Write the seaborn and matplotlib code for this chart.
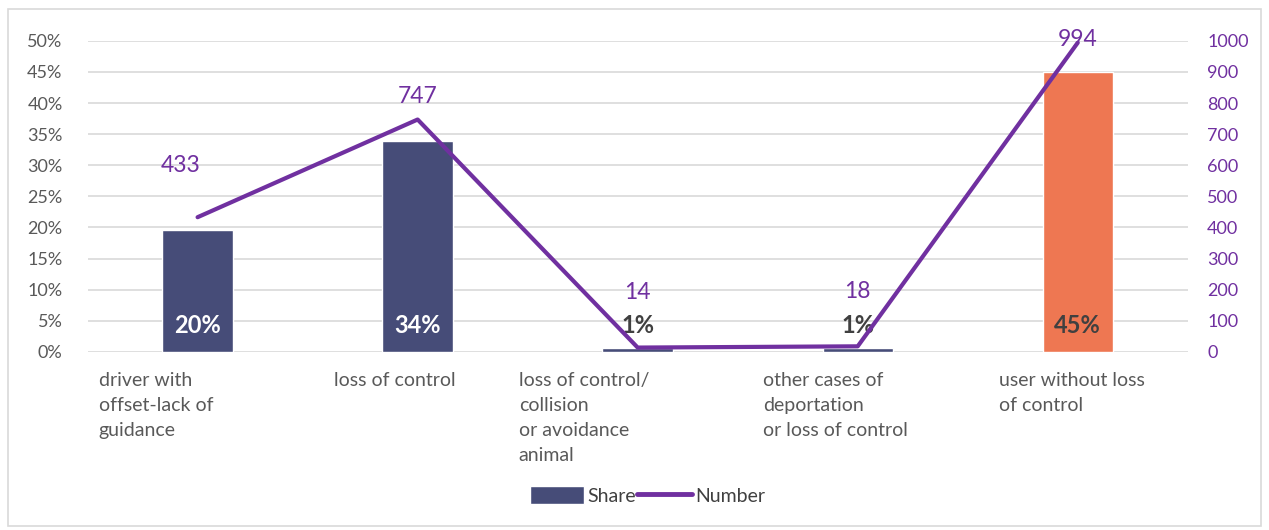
import numpy as np
import matplotlib.pyplot as plt
import seaborn as sns
from matplotlib.patches import Patch, Rectangle
from matplotlib.lines import Line2D

# chart data
categories = ["driver with\noffset-lack of\nguidance", "loss of control",
              "loss of control/\ncollision\nor avoidance\nanimal",
              "other cases of\ndeportation\nor loss of control",
              "user without loss\nof control"]
share = [0.196, 0.339, 0.006, 0.006, 0.450]
share_labels = ["20%", "34%", "1%", "1%", "45%"]
number = [433, 747, 14, 18, 994]

navy = "#464C78"
orange = "#EE7752"
purple = "#7030A0"
bar_colors = [navy, navy, navy, navy, orange]
label_colors = ["white", "white", "#404040", "#404040", "#404040"]
num_offsets = [30, 9, 32, 32, -5]          # points above line markers
xlabel_shift = [-0.45, -0.38, -0.54, -0.43, -0.36]

sns.set_style("white")
plt.rcParams['font.family'] = ['Lato', 'DejaVu Sans']

fig = plt.figure(figsize=(12.69, 5.30), dpi=100)
fig.patches.append(Rectangle((0.006, 0.008), 0.988, 0.975, transform=fig.transFigure,
                             fill=False, edgecolor="#D9D9D9", linewidth=1.2))
ax = fig.add_axes([0.069, 0.336, 0.867, 0.587])

x = np.arange(len(categories))
sns.barplot(x=x, y=share, hue=x, palette=bar_colors, legend=False,
            width=0.32, saturation=1, ax=ax, zorder=2)
ax.set_ylim(0, 0.5)
ax.set_xlim(-0.5, 4.5)
ax.set_yticks(np.arange(0, 0.51, 0.05))
ax.set_yticklabels([f"{int(round(v*100))}%" for v in np.arange(0, 0.51, 0.05)],
                   fontsize=13, color="#595959")
ax.yaxis.grid(True, color="#D9D9D9", linewidth=1.2, zorder=0)
ax.set_axisbelow(True)
ax.set_xticks([])
ax.set_xlabel("")
ax.tick_params(axis="y", length=0, pad=18)
for s in ax.spines.values():
    s.set_visible(False)

for i, lab in enumerate(share_labels):
    ax.text(i, 0.042, lab, ha="center", va="center", fontsize=17,
            fontweight="bold", color=label_colors[i], zorder=5)

for i, cat in enumerate(categories):
    ax.text(i + xlabel_shift[i], -0.033, cat, ha="left", va="top", fontsize=14,
            color="#595959", linespacing=1.55, transform=ax.transData)

ax2 = ax.twinx()
sns.lineplot(x=x, y=number, color=purple, linewidth=3, ax=ax2, zorder=3)
ax2.set_ylim(0, 1000)
ax2.set_yticks(np.arange(0, 1001, 100))
ax2.tick_params(axis="y", length=0, pad=14, labelsize=13, labelcolor=purple)
ax2.set_ylabel("")
for s in ax2.spines.values():
    s.set_visible(False)
for i, n in enumerate(number):
    ax2.annotate(str(n), (i, n), xytext=(-12 if i == 0 else 0, num_offsets[i]),
                 textcoords="offset points", ha="center", va="bottom",
                 fontsize=16.5, color=purple)

handles = [Patch(facecolor=navy, label="Share"),
           Line2D([0], [0], color=purple, linewidth=3.5, label="Number")]
fig.legend(handles=handles, loc="center", bbox_to_anchor=(0.51, 0.065), ncol=2,
           frameon=False, fontsize=14, handlelength=2.8, handleheight=1.0,
           columnspacing=0.1, handletextpad=0.15, labelcolor="#404040")

plt.savefig("out.png", dpi=100)
